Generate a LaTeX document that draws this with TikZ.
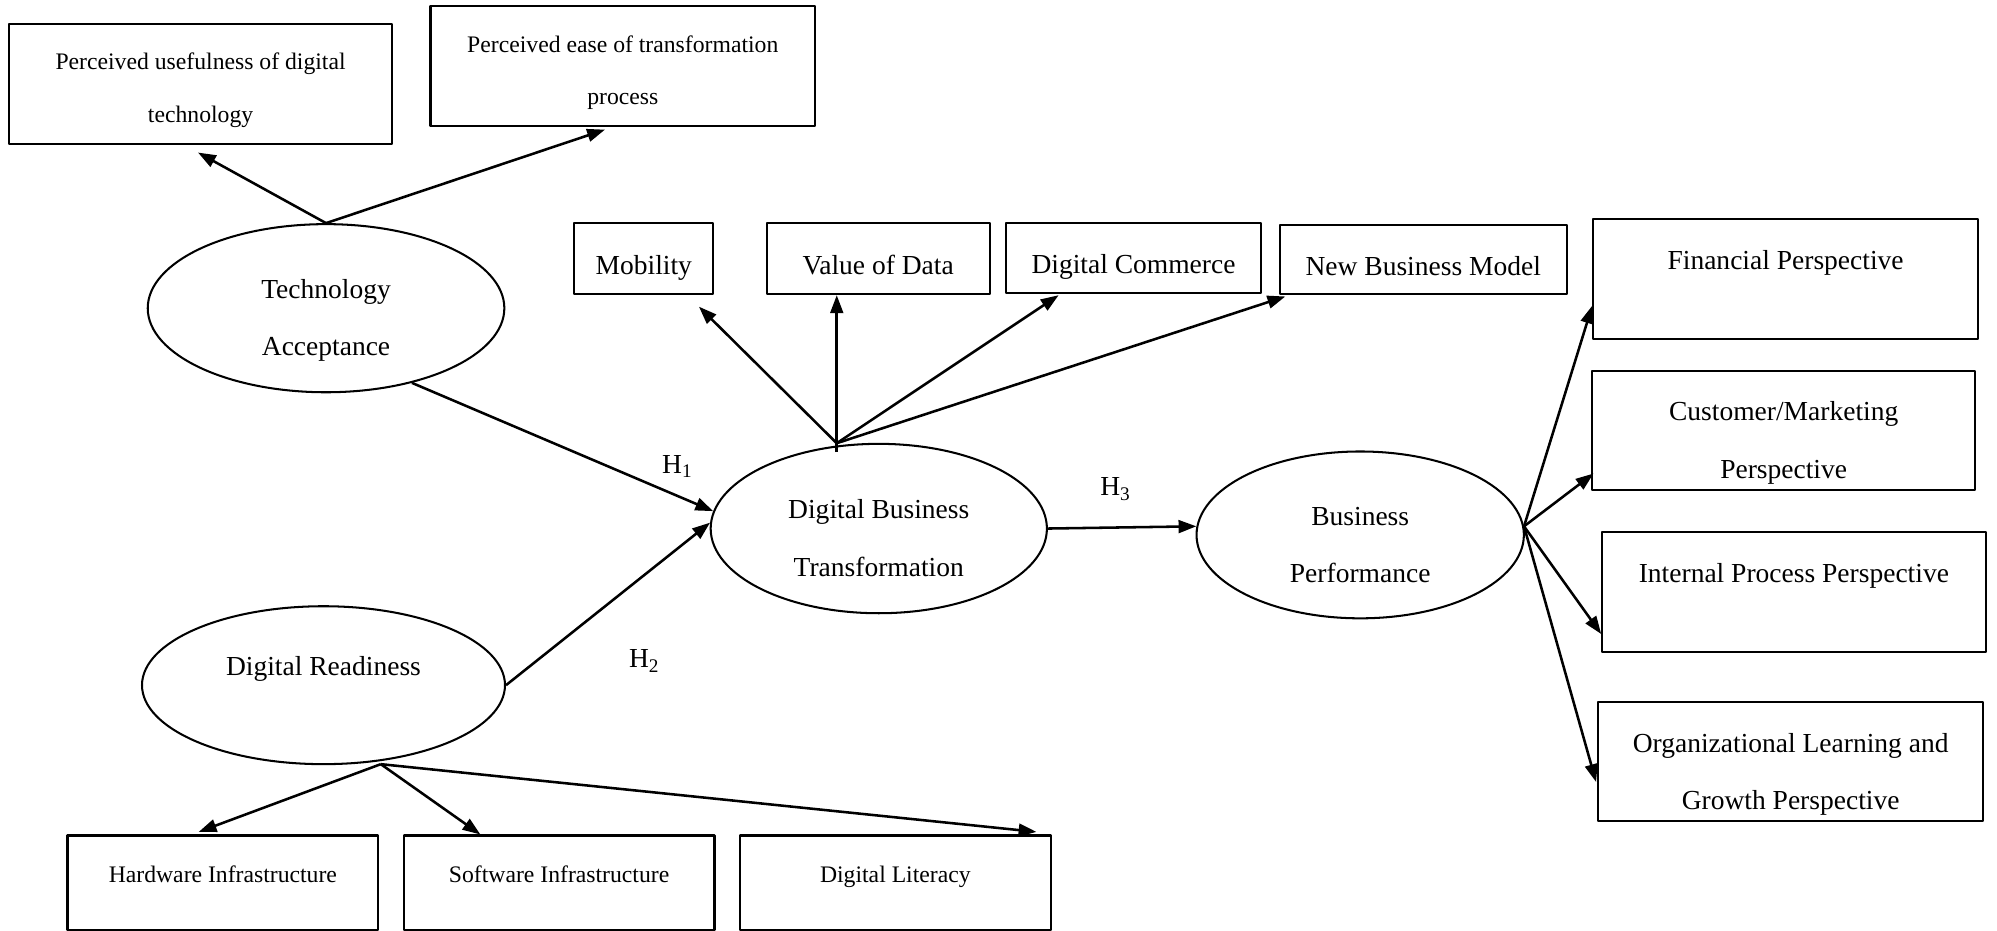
\documentclass[tikz,border=0pt]{standalone}
\usepackage{fontspec}
\setmainfont{Liberation Serif}
\usetikzlibrary{shapes.geometric,arrows.meta,calc}
\begin{document}
\begin{tikzpicture}[x=0.5pt, y=-0.5pt, >={Triangle[length=7pt,width=5pt]}, line join=round,
 box/.style={draw, line width=0.8pt, inner sep=0pt, align=center},
 oval/.style={draw, ellipse, line width=0.8pt, inner sep=0pt, align=center},
 lines/.style 2 args={execute at begin node={\rule{0pt}{#1}}, execute at end node={\rule[-#2]{0pt}{#2}}},
 big/.style={font=\fontsize{10.8}{22.5}\selectfont, lines={40pt}{2.5pt}},
 big1/.style={font=\fontsize{10.8}{22.5}\selectfont, lines={15pt}{2.5pt}},
 small/.style={font=\fontsize{9.3}{20.5}\selectfont, lines={32.4pt}{2.5pt}},
 small1/.style={font=\fontsize{9.3}{20.5}\selectfont, lines={6pt}{6.5pt}},
 arr/.style={->, line width=1pt}]
 \useasboundingbox (0,0) rectangle (1568,731);
 % constructs
 \node[oval, big, minimum width=140pt, minimum height=66pt] (ta) at (256,242) {Technology\\Acceptance};
 \node[oval, big, minimum width=132pt, minimum height=66.5pt] (dbt) at (690,415) {Digital Business\\Transformation};
 \node[oval, big, minimum width=128.5pt, minimum height=65.5pt] (bp) at (1068,420) {Business\\Performance};
 \node[oval, big, minimum width=142.5pt, minimum height=62pt] (dr) at (254,538) {Digital Readiness\\\mbox{}};
 % indicators
 \node[box, small, minimum width=150.5pt, minimum height=47pt] (pu) at (157.5,66) {Perceived usefulness of digital\\technology};
 \node[box, small, minimum width=151pt, minimum height=47pt] (pe) at (489,52) {Perceived ease of transformation\\process};
 \node[box, big1, minimum width=54.5pt, minimum height=28pt] (mob) at (505.5,203) {Mobility};
 \node[box, big1, minimum width=87.5pt, minimum height=28pt] (val) at (689.5,203) {Value of Data};
 \node[box, big1, minimum width=100pt, minimum height=27.5pt] (dc) at (890,202.5) {Digital Commerce};
 \node[box, big1, minimum width=112.5pt, minimum height=27pt] (nbm) at (1117.5,204) {New Business Model};
 \node[box, big, minimum width=151pt, minimum height=47pt] (fin) at (1402,219) {Financial Perspective\\\mbox{}};
 \node[box, big, minimum width=150.5pt, minimum height=47pt] (cm) at (1400.5,338) {Customer/Marketing\\Perspective};
 \node[box, big, minimum width=150.5pt, minimum height=47pt] (ip) at (1408.5,465) {Internal Process Perspective\\\mbox{}};
 \node[box, big, minimum width=151pt, minimum height=47pt] (ol) at (1406,598) {Organizational Learning and\\Growth Perspective};
 \node[box, small1, minimum width=122pt, minimum height=37pt] (hw) at (175,693) {Hardware Infrastructure};
 \node[box, small1, minimum width=122pt, minimum height=37pt] (sw) at (439,693) {Software Infrastructure};
 \node[box, small1, minimum width=122pt, minimum height=37pt] (dl) at (703,693) {Digital Literacy};
 % hypotheses
 \node[font=\fontsize{10.8}{13}\selectfont] (h1) at (532,366) {H\textsubscript{1}};
 \node[font=\fontsize{10.8}{13}\selectfont] (h2) at (506,519) {H\textsubscript{2}};
 \node[font=\fontsize{10.8}{13}\selectfont] (h3) at (876,384) {H\textsubscript{3}};
 % paths
 \coordinate (hub) at (657,348);
 \coordinate (drhub) at (299,600);
 \draw[arr] (ta.north) -- ($(pu.south)+(-2,6)$);
 \draw[arr] (ta.north) -- ($(pe.south)+(-14,2)$);
 \draw[arr] (ta.-41) -- (dbt.174);
 \draw[arr] (dr.east) -- (dbt.178);
 \draw[arr] (hub) -- ($(mob.south east)+(-12,9)$);
 \draw[arr, shorten <=-3.5pt] (hub) -- (hub |- val.south);
 \draw[arr] (hub) -- ($(dc.south west)+(42,1)$);
 \draw[arr] (hub) -- ($(nbm.south west)+(5,1)$);
 \draw[arr] (dbt.east) -- (bp.177);
 \draw[arr] (bp.3) -- ($(fin.west)+(0,21)$);
 \draw[arr] (bp.3) -- ($(cm.south west)+(2,-14)$);
 \draw[arr] (bp.3) -- ($(ip.south west)+(0,-15)$);
 \draw[arr] (bp.3) -- ($(ol.west)+(-1,16)$);
 \draw[arr] (drhub) -- ($(hw.north)+(-19,-2)$);
 \draw[arr] (drhub) -- ($(sw.north west)+(61,0)$);
 \draw[arr] (drhub) -- ($(dl.north east)+(-12,-2)$);
\end{tikzpicture}
\end{document}
